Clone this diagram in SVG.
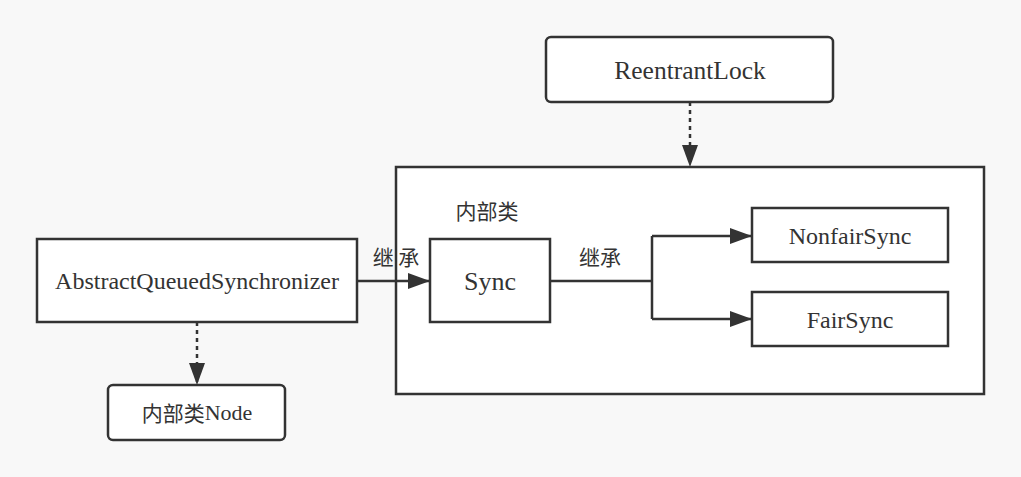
<svg xmlns="http://www.w3.org/2000/svg" width="1021" height="477" viewBox="0 0 1021 477">
<style>
.box{fill:#fff;stroke:#333;stroke-width:2.5}
.en{font-family:"Liberation Serif",serif;fill:#333;font-size:24px;text-anchor:middle;dominant-baseline:central}
.cn{font-family:"Noto Sans CJK SC",sans-serif;fill:#333;font-size:21px;text-anchor:middle;dominant-baseline:central}
.ln{fill:none;stroke:#333;stroke-width:2.5}
.dash{stroke-dasharray:4 4}
</style>
<defs>
<marker id="ahb" markerWidth="22" markerHeight="16" refX="22" refY="8" orient="auto" markerUnits="userSpaceOnUse" viewBox="0 0 22 16">
<path d="M0,0 L22,8 L0,16 Z" fill="#333"/>
</marker>
</defs>
<rect width="1021" height="477" fill="#f8f8f8"/>
<g id="container">
<rect class="box" x="396" y="167" width="588" height="227"/>
<text class="cn" x="487" y="210">内部类</text>
</g>
<g id="reentrantlock">
<rect class="box" x="546" y="37" width="287" height="65" rx="5"/>
<text class="en" x="690" y="70" style="font-size:25.5px">ReentrantLock</text>
</g>
<g id="aqs">
<rect class="box" x="37" y="239" width="320" height="83"/>
<text class="en" x="197" y="281">AbstractQueuedSynchronizer</text>
</g>
<g id="sync">
<rect class="box" x="430" y="239" width="120" height="83"/>
<text class="en" x="490" y="281" style="font-size:26px">Sync</text>
</g>
<g id="nonfairsync">
<rect class="box" x="752" y="208" width="196" height="54"/>
<text class="en" x="850" y="236">NonfairSync</text>
</g>
<g id="fairsync">
<rect class="box" x="752" y="292" width="196" height="54"/>
<text class="en" x="850" y="320">FairSync</text>
</g>
<g id="node">
<rect class="box" x="108" y="385" width="177" height="55" rx="5"/>
<text x="197" y="412" class="en" style="font-size:22px"><tspan style="font-family:'Noto Sans CJK SC',sans-serif;font-size:21px">内部类</tspan>Node</text>
</g>
<g id="connectors">
<path class="ln dash" d="M690,102 V167" marker-end="url(#ahb)"/>
<path class="ln dash" d="M197,322 V385" marker-end="url(#ahb)"/>
<path class="ln" d="M357,281 H430" marker-end="url(#ahb)"/>
<text class="cn" x="396" y="256">继 承</text>
<path class="ln" d="M550,281 H652 M652,236 V319"/>
<path class="ln" d="M652,236 H752" marker-end="url(#ahb)"/>
<path class="ln" d="M652,319 H752" marker-end="url(#ahb)"/>
<text class="cn" x="600" y="256">继承</text>
</g>
</svg>
